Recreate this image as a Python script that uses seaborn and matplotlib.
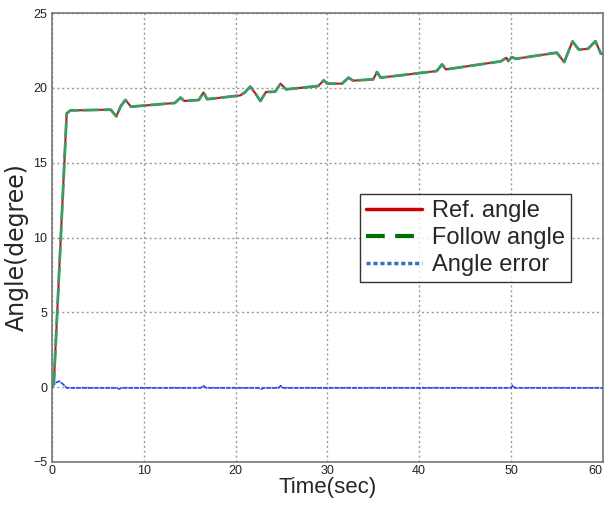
import matplotlib
matplotlib.use("Agg")
import matplotlib.pyplot as plt
import seaborn as sns
import pandas as pd
from matplotlib.lines import Line2D

# ---- data ----
ref_t = [0, 0.2, 1.6, 2.0, 6.4, 7.0, 7.5, 8.0, 8.6, 13.4, 14.0, 14.4, 16.0, 16.5, 16.9,
         20.5, 21.0, 21.6, 22.2, 22.7, 23.3, 24.3, 24.9, 25.5, 29.0, 29.6, 30.0, 31.6,
         32.3, 32.8, 35.0, 35.4, 35.8, 41.9, 42.5, 42.9, 48.9, 49.5, 49.7, 50.1, 50.5,
         55.0, 55.8, 56.7, 57.4, 58.4, 59.2, 59.8, 60]
ref_angle = [0, 0.3, 18.3, 18.5, 18.55, 18.1, 18.8, 19.2, 18.75, 19.0, 19.36, 19.13, 19.2,
             19.7, 19.25, 19.5, 19.7, 20.09, 19.6, 19.13, 19.73, 19.75, 20.29, 19.91, 20.13,
             20.51, 20.29, 20.29, 20.69, 20.49, 20.58, 21.07, 20.69, 21.13, 21.58, 21.24,
             21.78, 22.02, 21.8, 22.07, 21.95, 22.36, 21.73, 23.11, 22.56, 22.62, 23.13,
             22.29, 22.29]
follow_t = ref_t
follow_angle = ref_angle

err_t = [0, 0.4, 0.8, 1.2, 1.6, 7.0, 7.3, 7.6, 16.2, 16.5, 16.8, 22.5, 22.8, 23.1,
         24.7, 24.9, 25.2, 50.0, 50.2, 50.4, 60]
err = [0, 0.3, 0.4, 0.2, -0.05, -0.05, -0.12, -0.05, -0.05, 0.1, -0.05, -0.05, -0.12,
       -0.05, -0.05, 0.1, -0.05, -0.05, 0.12, -0.05, -0.05]

x_ticks = [0, 10, 20, 30, 40, 50, 60]
y_ticks = [-5, 0, 5, 10, 15, 20, 25]

sns.set_style("white")
plt.rcParams['font.family'] = ['Liberation Sans', 'DejaVu Sans']

fig = plt.figure(figsize=(6.07, 5.07), dpi=100)
ax = fig.add_axes([0.0857, 0.0888, 0.9073, 0.8852])

df_ref = pd.DataFrame({"t": ref_t, "v": ref_angle})
df_fol = pd.DataFrame({"t": follow_t, "v": follow_angle})
df_err = pd.DataFrame({"t": err_t, "v": err})

sns.lineplot(data=df_ref, x="t", y="v", ax=ax, color="#d01010", lw=1.5,
             label="Ref. angle", sort=False, zorder=3)
sns.lineplot(data=df_fol, x="t", y="v", ax=ax, color="#3a9a6a", lw=2.0,
             label="Follow angle", sort=False, zorder=4)
ax.lines[-1].set_dashes([6, 1.5])
sns.lineplot(data=df_err, x="t", y="v", ax=ax, color="#2a40f0", lw=1.2,
             label="Angle error", sort=False, zorder=3)
ax.lines[-1].set_dashes([3, 0.5])

ax.set_xlim(0, 60)
ax.set_ylim(-5, 25)
ax.set_xticks(x_ticks)
ax.set_yticks(y_ticks)
ax.tick_params(direction="in", length=3, labelsize=9, colors="#333333",
               labelcolor="#222222")
ax.tick_params(axis="x", pad=2)
ax.grid(True, linestyle=(0, (1.5, 2)), color="#999999", lw=1)
for s in ax.spines.values():
    s.set_color("#777777")
    s.set_linewidth(1.2)
xl = ax.get_xticklabels()
xl[-1].set_horizontalalignment("right")

ax.set_xlabel("Time(sec)", fontsize=16, labelpad=0)
ax.set_ylabel("Angle(degree)", fontsize=17, family=["DejaVu Sans"])
ax.yaxis.set_label_coords(-0.043, 0.478)

# legend
handles = [
    Line2D([], [], color="#cc0000", lw=2.5, ls="-"),
    Line2D([], [], color="#007000", lw=3, dashes=[4.5, 2.5]),
    Line2D([], [], color="#3a6fc0", lw=2.5, dashes=[1.2, 0.8]),
]
leg = ax.legend(handles, ["Ref. angle", "Follow angle", "Angle error"],
                loc="upper left", bbox_to_anchor=(0.559, 0.596),
                prop={"family": "Liberation Sans", "size": 17},
                frameon=True, fancybox=False, handlelength=2.4, handletextpad=0.4,
                borderpad=0.25, labelspacing=0.2, borderaxespad=0)
leg.get_frame().set_edgecolor("black")
leg.get_frame().set_linewidth(1.0)

fig.savefig("out.png", dpi=100)
